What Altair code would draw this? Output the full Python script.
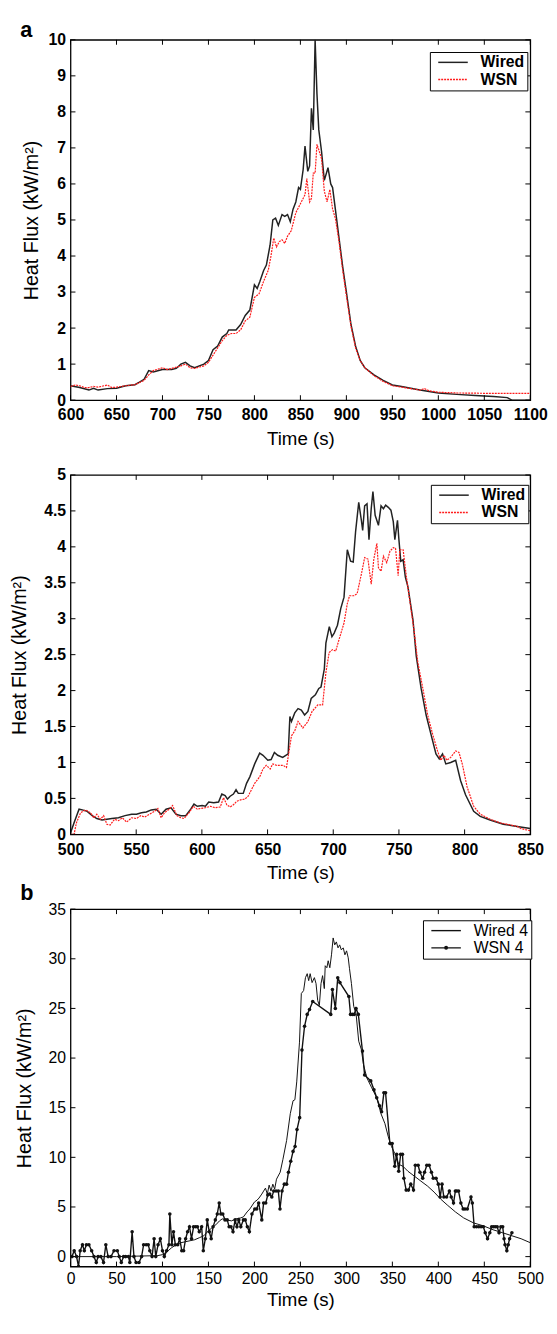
import altair as alt
import pandas as pd

# ---------------- panel a, upper plot ----------------
A1_WIRED_T = [600, 610, 620, 625, 630, 640, 650, 660, 670, 675, 680, 685, 690, 700, 710, 715, 720, 725, 730, 735,
              740, 745, 750, 755, 760, 765, 770, 772, 780, 785, 790, 795, 800, 803, 806, 810, 813, 817, 820, 823,
              826, 830, 833, 836, 839, 842, 845, 848, 850, 853, 855, 858, 860, 862, 864, 866, 868, 870, 873, 876,
              880, 883, 885, 888, 892, 896, 900, 905, 910, 915, 920, 930, 940, 950, 960, 970, 980, 990, 1000, 1020,
              1040, 1060, 1075, 1080, 1100]
A1_WIRED_V = [0.40, 0.35, 0.28, 0.33, 0.28, 0.32, 0.33, 0.40, 0.43, 0.50, 0.58, 0.82, 0.78, 0.85, 0.85, 0.88, 1.00, 1.05, 0.95, 0.90,
              0.95, 1.00, 1.10, 1.40, 1.50, 1.75, 1.85, 1.95, 1.95, 2.10, 2.35, 2.50, 3.20, 3.10, 3.30, 3.60, 3.75, 4.30, 5.00, 5.05,
              4.85, 5.15, 5.10, 5.15, 4.95, 5.30, 5.50, 5.90, 5.85, 6.40, 7.05, 6.35, 6.50, 8.10, 7.50, 10.0, 8.50, 7.50, 6.90, 6.10,
              6.45, 6.00, 5.90, 5.30, 4.50, 3.70, 3.00, 2.10, 1.50, 1.10, 0.90, 0.70, 0.55, 0.42, 0.38, 0.33, 0.28, 0.24, 0.20, 0.16,
              0.13, 0.10, 0.07, 0.0, 0.0]
A1_WSN_T = [600, 605, 610, 615, 620, 625, 630, 640, 645, 650, 660, 670, 680, 685, 690, 700, 705, 710, 720, 725,
            730, 735, 740, 745, 750, 755, 760, 765, 770, 775, 780, 785, 790, 795, 800, 805, 810, 815, 818, 821,
            824, 827, 830, 833, 836, 840, 845, 850, 855, 857, 860, 862, 864, 866, 868, 870, 873, 876, 879, 882,
            885, 888, 892, 896, 900, 905, 910, 915, 920, 930, 940, 950, 960, 970, 980, 985, 990, 1000, 1020, 1050,
            1100]
A1_WSN_V = [0.38, 0.42, 0.40, 0.35, 0.35, 0.38, 0.36, 0.42, 0.35, 0.36, 0.40, 0.43, 0.55, 0.70, 0.82, 0.90, 0.85, 0.88, 0.95, 1.00,
            0.90, 0.88, 0.92, 0.95, 1.05, 1.25, 1.45, 1.65, 1.80, 1.85, 1.85, 1.95, 2.20, 2.30, 2.85, 2.95, 3.30, 3.60, 4.00, 4.50,
            4.25, 4.40, 4.45, 4.35, 4.55, 4.70, 5.20, 5.45, 5.70, 6.15, 5.50, 5.60, 6.30, 6.30, 7.10, 6.95, 6.70, 5.80, 5.50, 5.85,
            5.30, 5.05, 4.40, 3.60, 2.90, 2.05, 1.45, 1.10, 0.90, 0.68, 0.52, 0.40, 0.36, 0.32, 0.28, 0.32, 0.26, 0.22, 0.20, 0.19,
            0.19]
A1_X_TICKS = [600, 650, 700, 750, 800, 850, 900, 950, 1000, 1050, 1100]
A1_Y_TICKS = [0, 1, 2, 3, 4, 5, 6, 7, 8, 9, 10]

# ---------------- panel a, lower plot ----------------
A2_WIRED_T = [500, 502.7, 506.5, 509, 512.7, 516.5, 520, 524, 527.7, 531.5, 536.5, 541.5, 546.5, 550.2, 554, 557.7,
              561.5, 565.2, 569, 572.7, 576.5, 580.2, 584, 587.7, 591.5, 594, 596.5, 600.2, 602.7, 605.2, 609, 612.7,
              615.2, 617.7, 619.5, 621.5, 624, 626, 627.7, 631.5, 634, 636.5, 640.2, 644, 646.5, 650.2, 652.7, 655.2,
              657.7, 661.5, 665.7, 667, 668.2, 670.7, 673.2, 675.7, 678.2, 680.7, 683.2, 686.4, 689, 690.7, 693.2, 694.4,
              697, 699, 700.7, 703.2, 705.7, 708.2, 710.7, 713.2, 715.2, 717, 719.4, 721.4, 722.4, 723.9, 725.7, 727.2,
              728.9, 730.2, 731.9, 734.4, 736.4, 738.2, 739.9, 741.9, 743.9, 745.7, 746.9, 748.9, 749.9, 751.4, 753.2, 754.9,
              756.9, 760.7, 763.2, 766.9, 770.7, 774.4, 778.2, 780.7, 783.2, 785.7, 789.4, 793.2, 796.9, 800.7, 806.9, 811.9,
              819.4, 829.4, 840, 850]
A2_WIRED_V = [0.02, 0.16, 0.35, 0.34, 0.32, 0.26, 0.22, 0.20, 0.21, 0.22, 0.23, 0.26, 0.28, 0.28, 0.30, 0.31,
              0.34, 0.35, 0.28, 0.35, 0.37, 0.28, 0.26, 0.26, 0.35, 0.42, 0.39, 0.40, 0.39, 0.45, 0.44, 0.45,
              0.56, 0.54, 0.49, 0.53, 0.56, 0.62, 0.57, 0.57, 0.71, 0.80, 0.98, 1.13, 1.10, 1.03, 1.04, 1.14,
              1.10, 1.07, 1.12, 1.64, 1.57, 1.69, 1.75, 1.73, 1.66, 1.71, 1.89, 1.94, 2.03, 2.05, 2.30, 2.66,
              2.89, 2.75, 2.80, 2.91, 3.14, 3.30, 3.96, 3.80, 3.79, 4.21, 4.62, 4.37, 4.23, 4.57, 4.60, 4.10,
              4.53, 4.77, 4.44, 4.30, 4.57, 4.53, 4.58, 4.55, 4.51, 4.35, 4.10, 4.37, 4.12, 3.80, 3.82, 3.58,
              3.44, 2.98, 2.48, 2.03, 1.66, 1.39, 1.12, 1.05, 1.12, 0.98, 1.00, 1.03, 0.75, 0.55, 0.32, 0.25,
              0.20, 0.14, 0.11, 0.08]
A2_WSN_T = [500, 502.7, 504.5, 507.7, 511.5, 515.2, 517.7, 520, 522.7, 525.2, 527.7, 530.2, 533.5, 536.5, 539.5, 542.7,
            546.5, 550.2, 553.5, 556.5, 560.2, 564, 566.5, 569, 571.5, 575.2, 577.7, 581, 584, 586.5, 590.2, 593.5,
            596.5, 599, 602.7, 606.5, 610.2, 614, 616.5, 619, 621.5, 624, 626.5, 629.5, 632.7, 635.2, 637.7, 640.2,
            644, 646.5, 649, 652, 654, 656.9, 661.9, 664.4, 668.2, 670.7, 673.2, 676.9, 680.7, 683.9, 688.2, 691.9,
            694.4, 696.9, 699.4, 701.9, 704.4, 708.2, 710.7, 712.4, 715.7, 718.2, 721.4, 723.9, 726.4, 728.9, 730.9, 733.2,
            734.4, 736.4, 738.2, 740.7, 743.2, 745.7, 747.4, 749.4, 750.7, 753.2, 755.7, 758.2, 761.4, 764.4, 768.2, 771.9,
            775.7, 779.4, 781.9, 784.4, 786.4, 789.4, 793.2, 795.7, 798.2, 801.9, 806.9, 811.9, 819.4, 826.9, 835, 840,
            843, 850]
A2_WSN_V = [0.0, 0.0, 0.16, 0.30, 0.34, 0.30, 0.23, 0.28, 0.21, 0.26, 0.14, 0.13, 0.21, 0.19, 0.23, 0.17,
            0.23, 0.22, 0.26, 0.24, 0.28, 0.32, 0.36, 0.23, 0.30, 0.35, 0.40, 0.26, 0.23, 0.22, 0.30, 0.39,
            0.35, 0.36, 0.37, 0.39, 0.37, 0.38, 0.51, 0.41, 0.38, 0.41, 0.46, 0.48, 0.49, 0.53, 0.62, 0.71,
            0.80, 0.91, 0.96, 0.91, 0.98, 0.96, 0.96, 0.93, 1.37, 1.44, 1.57, 1.48, 1.57, 1.71, 1.80, 1.80,
            2.25, 2.53, 2.57, 2.55, 2.71, 2.94, 3.21, 3.32, 3.32, 3.35, 3.62, 3.85, 3.83, 3.48, 3.83, 4.05,
            3.71, 3.66, 3.87, 3.78, 3.94, 3.99, 3.98, 3.60, 3.96, 3.96, 3.58, 3.26, 2.85, 2.39, 2.03, 1.66,
            1.39, 1.16, 1.03, 1.10, 1.03, 1.07, 1.16, 1.14, 0.98, 0.66, 0.39, 0.28, 0.21, 0.16, 0.13, 0.11,
            0.08, 0.05]
A2_X_TICKS = [500, 550, 600, 650, 700, 750, 800, 850]
A2_Y_TICKS = [0, 0.5, 1, 1.5, 2, 2.5, 3, 3.5, 4, 4.5, 5]

# ---------------- panel b ----------------
B_WIRED_T = [0, 50, 95, 100, 105, 110, 115, 120, 125, 130, 135, 140, 145, 150, 155, 158, 162, 165, 170, 175,
             180, 185, 188, 192, 195, 200, 203, 205, 208, 210, 212, 214, 216, 218, 220, 222, 224, 228, 231, 235,
             239, 242, 244, 246, 249, 251, 253.5, 255.5, 257.4, 259, 260.6, 262.7, 265.2, 267, 268.8, 270.6, 272.4, 274.1,
             276, 277, 278.8, 280.2, 282, 283.8, 285.6, 287.3, 289.1, 290.9, 292.7, 294.5, 296.6, 298.4, 300.2, 302,
             303.4, 305.5, 308, 310.5, 313.4, 316.2, 318.7, 322.3, 327.6, 333, 337.6, 341.9, 345.5, 349, 352.6, 356.9,
             361.5, 366.9, 374, 381.1, 388.3, 395.4, 402.5, 409.7, 418.6, 427.5, 438.2, 448.9, 459.6, 470, 480, 490, 500]
B_WIRED_V = [0.0, 0.0, 0.1, 0.2, 0.5, 0.9, 1.2, 1.4, 1.5, 1.6, 1.7, 1.9, 2.1, 2.6, 3.0, 3.2, 3.6, 3.8, 3.7, 3.6,
             3.8, 3.9, 4.0, 4.5, 4.8, 5.5, 5.7, 5.9, 6.3, 6.6, 6.9, 6.3, 7.2, 6.6, 7.3, 6.8, 7.8, 8.5, 9.8, 11.7,
             14.4, 15.7, 15.8, 17.6, 21.6, 26.5, 26.8, 28.1, 28.5, 27.8, 28.5, 27.6, 28.1, 27.5, 25.8, 25.3, 27.5, 28.3,
             27.0, 29.3, 29.1, 29.8, 29.1, 30.4, 32.1, 31.4, 31.7, 31.1, 31.4, 30.9, 31.1, 30.4, 30.8, 30.1,
             29.0, 27.5, 25.2, 24.5, 21.7, 20.9, 19.3, 18.0, 17.0, 16.0, 14.4, 13.4, 12.1, 11.1, 10.4, 9.3,
             9.1, 8.6, 8.1, 7.6, 7.1, 6.5, 5.8, 5.2, 4.5, 3.9, 3.4, 3.1, 2.7, 2.4, 2.1, 1.8, 1.4]
B_WSN_T = [1.6, 4, 6.6, 8.7, 10.5, 13, 15, 17.3, 20, 23, 25.5, 28, 30, 33, 35.9, 38.4, 40.9, 44, 47.3, 50.9,
           53, 55.2, 57.7, 60, 63, 64.5, 67, 69, 71.3, 74.5, 77.3, 79.5, 82.3, 84.5, 86.2, 88.7, 90.9, 92.7, 95.2, 97.7,
           100, 102, 104.5, 107, 108, 110.2, 112, 114, 116.6, 118.7, 121, 123, 125.2, 127.3, 129.4, 131.6, 133.8, 136, 138, 140,
           142.6, 144.4, 146.6, 148.7, 150.9, 153, 155, 157.5, 159.6, 161.7, 163.5, 165.6, 168, 170.4, 172.5, 174.5, 176.7, 179, 181, 183,
           185.2, 188, 190, 192.3, 194.5, 197.3, 200.4, 202.5, 204.6, 208, 210, 212.3, 214.5, 216.6, 218.9, 221, 223.5, 226,
           227.8, 230, 232.5, 235, 237, 239.5, 242, 244.2, 246.3, 249.2, 251.7, 254.5, 257.4, 259.9, 263.4, 283, 284.8, 288,
           290.6, 293, 302.7, 304.5, 306.5, 308.5, 310.5, 313, 317.5, 319.8, 326.5, 330, 333, 336, 338.3, 340.8, 342.6, 347.3,
           349.8, 352.6, 354.7, 356.9, 359, 361, 362.5, 365, 367.5, 370, 373, 375, 378, 380, 383, 385, 387.5, 390, 392.5, 394.5,
           397.5, 400, 402, 404, 406, 409, 412, 414, 416.5, 418.5, 420, 422, 424.5, 427, 429, 431.5, 435.5, 437, 439, 441.5,
           444, 446.5, 449, 451, 453.5, 456, 458, 460, 462, 464, 466, 468, 470, 471.5, 472.5, 474.5, 476, 477.5, 480]
B_WSN_V = [0, 0.6, 0, -1.0, 0.6, 1.2, 0.6, 1.2, 1.2, 0.6, 0, -0.6, 0, 0, -0.6, 1.2, 0, 0, 0.6, 0.6,
           0, -0.6, 0, 0, 0, -0.6, 2.5, 0, -0.6, -0.6, 0, 1.2, 1.2, 1.2, 0.6, 0, 1.8, 0, 1.2, 1.8,
           0.6, 0, 0.6, 1.2, 4.3, 1.2, 2.5, 1.2, 1.2, 1.8, 0.6, 0.6, 1.8, 2.5, 3.0, 1.8, 3.0, 3.0, 3.0, 2.5,
           3.0, 0.6, 1.8, 3.7, 2.5, 1.8, 3.0, 3.7, 4.3, 5.4, 4.3, 4.3, 3.7, 3.7, 3.0, 3.0, 2.5, 3.7, 3.0, 3.7,
           3.0, 3.7, 3.7, 3.0, 2.5, 4.3, 4.8, 4.8, 5.4, 3.7, 5.4, 5.4, 6.2, 6.3, 6.0, 6.6, 6.6, 6.6,
           4.8, 6.6, 7.3, 7.3, 8.5, 9.6, 10.6, 11.1, 12.8, 14.0, 20.8, 23.2, 24.4, 24.9, 25.7, 24.4, 26.9, 25.0,
           28.1, 27.6, 26.2, 24.4, 24.4, 24.4, 25.0, 24.4, 20.7, 18.3, 17.7, 16.8, 16.0, 15.2, 14.6, 16.5, 16.5, 11.4,
           11.4, 9.1, 10.3, 8.6, 10.3, 10.3, 7.9, 6.7, 6.7, 7.3, 6.7, 9.2, 9.2, 8.5, 7.9, 8.5, 9.2, 9.2, 8.5, 7.9,
           7.9, 7.3, 6.0, 7.3, 6.0, 6.0, 6.6, 6.0, 5.4, 6.6, 6.6, 6.6, 5.4, 4.8, 4.8, 4.8, 6.0, 5.4, 3.0, 3.0,
           3.0, 3.0, 3.0, 2.4, 1.8, 2.4, 3.0, 3.0, 3.0, 3.0, 2.4, 3.0, 3.0, 1.8, 1.2, 0.6, 1.2, 1.8, 2.4]
B_X_TICKS = [0, 50, 100, 150, 200, 250, 300, 350, 400, 450, 500]
B_Y_TICKS = [0, 5, 10, 15, 20, 25, 30, 35]

PANEL_LETTERS = ["a", "b"]

NARROW = "Liberation Sans Narrow, Liberation Sans, Arial, sans-serif"
REG = "Liberation Sans, Arial, sans-serif"
W = 467
WIRED_COLOR = "#222222"
WSN_COLOR = "#ff1a1a"
B_COLOR = "#111111"

# legend symbol paths: symbolSize 100 -> 1 unit = 5 px; lines run 30 px to the right of the symbol slot
SOLID_PATH = "M-0.4,0L5.6,0"
DASH_PATH = "".join("M%.2f,0L%.2f,0" % (-0.4 + 0.6 * k, -0.4 + 0.6 * k + 0.4) for k in range(10))
DOT_PATH = "M-0.4,0L5.6,0M2.33,0A0.27,0.27,0,1,0,2.87,0A0.27,0.27,0,1,0,2.33,0Z"


def axes(xticks, yticks, weight, lsize, ytp, xlp, xtp):
    common = dict(ticks=False, tickSize=0, domain=False, grid=False, labelOverlap=False, labelFlush=False,
                  labelExpr="'' + datum.value", labelFont=NARROW, labelFontSize=lsize,
                  labelFontWeight=weight, labelColor="black", titleFont=REG, titleFontWeight="normal",
                  titleColor="black")
    ax = alt.Axis(values=xticks, title="Time (s)", labelPadding=xlp, titleFontSize=19,
                  titlePadding=xtp, **common)
    ay = alt.Axis(values=yticks, title="Heat Flux (kW/m²)", labelPadding=5, titleFontSize=20,
                  titlePadding=ytp, **common)
    return ax, ay


def inner_ticks(xticks, yticks, xs, ys, ax, ay, H, L=5):
    xt = pd.DataFrame({"t": xticks})
    yt = pd.DataFrame({"v": yticks})
    bx = alt.Chart(xt).mark_rule(color="black", strokeWidth=1)
    by = alt.Chart(yt).mark_rule(color="black", strokeWidth=1)
    X = alt.X("t:Q", scale=xs, axis=ax)
    Y = alt.Y("v:Q", scale=ys, axis=ay)
    return [
        bx.encode(x=X, y=alt.value(H), y2=alt.value(H - L)),
        bx.encode(x=X, y=alt.value(0), y2=alt.value(L)),
        by.encode(y=Y, x=alt.value(0), x2=alt.value(L)),
        by.encode(y=Y, x=alt.value(W), x2=alt.value(W - L)),
    ]


def letter_layer(letter, dy):
    return alt.Chart(pd.DataFrame({"label": [letter]})).mark_text(
        align="left", baseline="top", font=REG, fontSize=22, fontWeight="bold", color="black"
    ).encode(x=alt.value(-51), y=alt.value(dy), text="label:N")


def legend_layer(names, colors, paths, xs, ys, ax, ay, legx, legy, weight, swidth):
    legdf = pd.DataFrame({"s": names, "t": [None] * len(names), "v": [None] * len(names)})
    leg = alt.Legend(title=None, orient="none", legendX=legx, legendY=legy, symbolSize=100,
                     symbolStrokeWidth=swidth, labelFont=NARROW, labelFontSize=16,
                     labelFontWeight=weight, labelColor="black", strokeColor="black", fillColor="white",
                     padding=2.5, rowPadding=1.5, labelOffset=33, cornerRadius=0)
    return alt.Chart(legdf).mark_point(filled=False, opacity=1).encode(
        x=alt.X("t:Q", scale=xs, axis=ax), y=alt.Y("v:Q", scale=ys, axis=ay),
        color=alt.Color("s:N", scale=alt.Scale(domain=names, range=colors), legend=leg),
        shape=alt.Shape("s:N", scale=alt.Scale(domain=names, range=paths), legend=leg))


def panel_a(wt, wv, st, sv, xdom, ydom, xticks, yticks, H, legx, legy, ytp, letter=None):
    names = ["Wired", "WSN"]
    xs = alt.Scale(domain=xdom, nice=False, zero=False)
    ys = alt.Scale(domain=ydom, nice=False, zero=False)
    ax, ay = axes(xticks, yticks, "bold", 16, ytp, 7, 7)
    wired = alt.Chart(pd.DataFrame({"t": wt, "v": wv})).mark_line(
        clip=True, color=WIRED_COLOR, strokeWidth=1.5).encode(
        x=alt.X("t:Q", scale=xs, axis=ax), y=alt.Y("v:Q", scale=ys, axis=ay))
    wsn = alt.Chart(pd.DataFrame({"t": st, "v": sv})).mark_line(
        clip=True, color=WSN_COLOR, strokeWidth=1.2, strokeDash=[2, 1]).encode(
        x=alt.X("t:Q", scale=xs, axis=ax), y=alt.Y("v:Q", scale=ys, axis=ay))
    leg = legend_layer(names, [WIRED_COLOR, WSN_COLOR], [SOLID_PATH, DASH_PATH], xs, ys, ax, ay,
                       legx, legy, "bold", 1.5)
    layers = [wired, wsn, leg] + inner_ticks(xticks, yticks, xs, ys, ax, ay, H)
    if letter:
        layers.append(letter_layer(letter, -20.3))
    return alt.layer(*layers).properties(width=W, height=H)


def panel_b(H, legx, legy):
    names = ["Wired 4", "WSN 4"]
    xs = alt.Scale(domain=[0, 500], nice=False, zero=False)
    ys = alt.Scale(domain=[-1, 35], nice=False, zero=False)
    ax, ay = axes(B_X_TICKS, B_Y_TICKS, "normal", 16, 14, 4, 5)
    wired = alt.Chart(pd.DataFrame({"t": B_WIRED_T, "v": B_WIRED_V})).mark_line(
        clip=True, color=B_COLOR, strokeWidth=1.0).encode(
        x=alt.X("t:Q", scale=xs, axis=ax), y=alt.Y("v:Q", scale=ys, axis=ay))
    wsn_df = pd.DataFrame({"t": B_WSN_T, "v": B_WSN_V})
    wsn = alt.Chart(wsn_df).mark_line(clip=True, color=B_COLOR, strokeWidth=1.4).encode(
        x=alt.X("t:Q", scale=xs, axis=ax), y=alt.Y("v:Q", scale=ys, axis=ay))
    dots = alt.Chart(wsn_df).mark_circle(size=13, color=B_COLOR, opacity=1, clip=True).encode(
        x=alt.X("t:Q", scale=xs, axis=ax), y=alt.Y("v:Q", scale=ys, axis=ay))
    leg = legend_layer(names, [B_COLOR, B_COLOR], [SOLID_PATH, DOT_PATH], xs, ys, ax, ay,
                       legx, legy, "normal", 1.4)
    layers = [wired, wsn, dots, leg] + inner_ticks(B_X_TICKS, B_Y_TICKS, xs, ys, ax, ay, H) + \
        [letter_layer(PANEL_LETTERS[1], -26.4)]
    return alt.layer(*layers).properties(width=W, height=H)


p1 = panel_a(A1_WIRED_T, A1_WIRED_V, A1_WSN_T, A1_WSN_V, [600, 1100], [0, 10], A1_X_TICKS, A1_Y_TICKS,
             366, 365, 12.4, 7, letter=PANEL_LETTERS[0])
p2 = panel_a(A2_WIRED_T, A2_WIRED_V, A2_WSN_T, A2_WSN_V, [500, 850], [0, 5], A2_X_TICKS, A2_Y_TICKS,
             365, 366, 10, 14)
p3 = panel_b(363, 358, 11.3)

chart = alt.vconcat(p1, p2, p3, spacing=76, bounds="flush").resolve_scale(
    color="independent", shape="independent", x="independent", y="independent"
).resolve_legend(color="independent", shape="independent").configure_view(
    stroke="black", strokeWidth=1.3
).properties(padding={"left": 1.5, "top": 0, "right": 0, "bottom": 0}, background="white")

chart.save("out.html", embed_options={"renderer": "svg", "actions": False})
